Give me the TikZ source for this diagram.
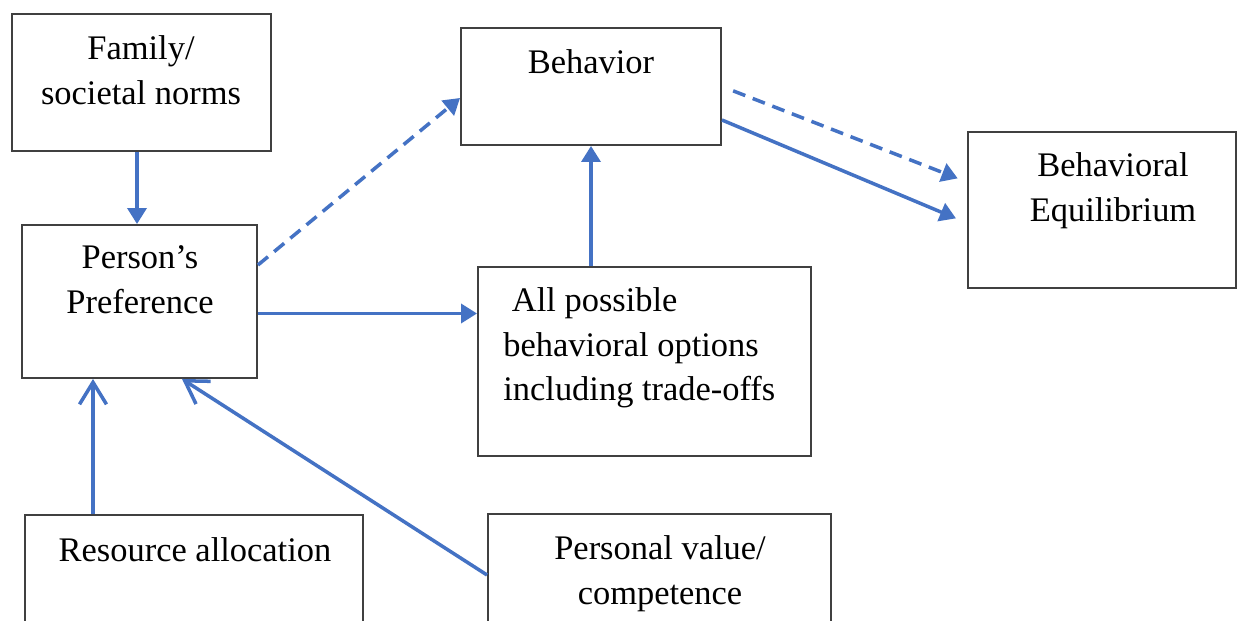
\documentclass[tikz,border=0pt]{standalone}
\usepackage{fontspec}
\setmainfont{Liberation Serif}
\usetikzlibrary{arrows.meta}
\definecolor{arrowblue}{RGB}{68,114,196}
\definecolor{boxgray}{RGB}{64,64,64}
\begin{document}
\begin{tikzpicture}[
  box/.style={shape=rectangle, draw=boxgray, line width=1.1pt, fill=white, inner sep=0pt},
  txt/.style={anchor=north, inner sep=0pt, align=center, text=black,
    font=\fontsize{19.6}{25.5}\selectfont},
  arr/.style={-{Triangle[length=0.32cm, width=0.38cm]}, line width=2pt, draw=arrowblue},
  openarr/.style={-{Straight Barb[length=0.44cm, width=0.54cm]}, line width=2pt, draw=arrowblue},
  dasharr/.style={arr, dash pattern=on 0.26cm off 0.16cm}]
\clip (0,0) rectangle (24.96,-12.42);
\fill[white] (0,0) rectangle (24.96,-12.42);
% boxes
\node[box, minimum width=5.18cm, minimum height=2.74cm] (fam) at (2.83,-1.65) {};
\node[box, minimum width=4.70cm, minimum height=3.06cm] (pref) at (2.79,-6.03) {};
\node[box, minimum width=5.20cm, minimum height=2.34cm] (beh) at (11.82,-1.73) {};
\node[box, minimum width=6.66cm, minimum height=3.78cm] (opts) at (12.89,-7.23) {};
\node[box, minimum width=5.36cm, minimum height=3.12cm] (eq) at (22.04,-4.20) {};
\node[box, minimum width=6.76cm, minimum height=2.60cm] (res) at (3.88,-11.60) {};
\node[box, minimum width=6.86cm, minimum height=2.62cm] (val) at (13.19,-11.59) {};
% texts
\node[txt] (famtxt) at (2.82,-0.70) {Family/\\societal norms};
\node[txt] (preftxt) at (2.80,-4.90) {Person’s\\Preference};
\node[txt] (behtxt) at (11.82,-0.98) {Behavior};
\node[txt, anchor=north west, align=left] (optstxt) at (10.06,-5.74) {\ All possible\\behavioral options\\including trade-offs};
\node[txt] (eqtxt) at (22.26,-3.04) {Behavioral\\Equilibrium};
\node[txt] (restxt) at (3.90,-10.74) {Resource allocation};
\node[txt] (valtxt) at (13.20,-10.70) {Personal value/\\competence};
% connectors
\draw[arr] ([xshift=-0.05cm]pref.north |- fam.south) -- ([xshift=-0.05cm]pref.north);
\draw[arr] ([yshift=-0.24cm]pref.east) -- ([yshift=-0.24cm]pref.east -| opts.west);
\draw[arr] (beh.south |- opts.north) -- (beh.south);
\draw[dasharr] ([yshift=0.73cm]pref.east) -- ([yshift=-0.23cm]beh.west);
\draw[dasharr, shorten <=0.24cm, shorten >=0.2cm] (beh.east) -- ([yshift=0.56cm]eq.west);
\draw[arr, shorten >=0.24cm] ([yshift=-0.67cm]beh.east) -- ([yshift=-0.26cm]eq.west);
\draw[openarr] ([xshift=-0.93cm]pref.south |- res.north) -- ([xshift=-0.93cm]pref.south);
\draw[openarr] ([yshift=0.09cm]val.west) -- ([xshift=0.85cm]pref.south);
\end{tikzpicture}
\end{document}
